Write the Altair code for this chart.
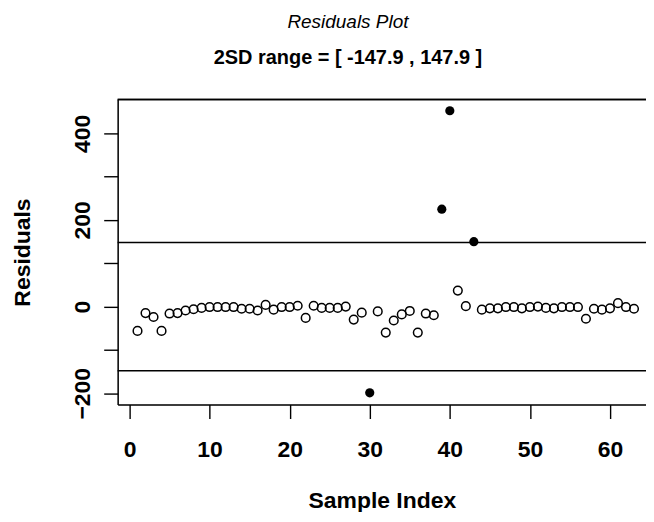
import altair as alt
import pandas as pd

# Sample index 1..63 and residuals
sample_index = list(range(1, 64))
residuals = [-56, -15, -24, -56, -16, -15, -9, -6, -3, -1,
             -1, -1, -1, -5, -5, -9, 4, -7, -1, -1,
             2, -26, 2, -3, -3, -3, 0, -30, -14, -199,
             -11, -60, -32, -18, -10, -60, -16, -20, 225, 452,
             37, 1, 150, -7, -4, -4, -1, -1, -4, -1,
             0, -3, -4, -1, -1, -1, -28, -5, -7, -4,
             8, -1, -5]
sd2 = 147.9
limits = [-sd2, sd2]
x_ticks = [0, 10, 20, 30, 40, 50, 60]
y_ticks = [-200, -100, 0, 100, 200, 300, 400]

df = pd.DataFrame({"idx": sample_index, "res": residuals})
df["out"] = df["res"].abs() > sd2
lim_df = pd.DataFrame({"lim": limits})

FONT = "Liberation Sans, Arial, sans-serif"

xscale = alt.Scale(domain=[-1.48, 64.5], nice=False, zero=False)
yscale = alt.Scale(domain=[-226, 478], nice=False, zero=False)

xaxis = alt.Axis(values=x_ticks, title="Sample Index", grid=False,
                 tickSize=14, tickWidth=1.4, tickColor="black",
                 domainColor="black", domainWidth=1.5,
                 labelFont=FONT, labelFontSize=23, labelFontWeight="bold",
                 labelColor="black", labelPadding=20,
                 titleFont=FONT, titleFontSize=23, titleFontWeight="bold",
                 titleColor="black", titlePadding=28)
yaxis = alt.Axis(values=y_ticks, title="Residuals", grid=False,
                 labelExpr="datum.value % 200 == 0 ? datum.label : ''",
                 labelAngle=-90, labelAlign="center", labelBaseline="bottom",
                 tickSize=14, tickWidth=1.4, tickColor="black",
                 domainColor="black", domainWidth=1.5,
                 labelFont=FONT, labelFontSize=23, labelFontWeight="bold",
                 labelColor="black", labelPadding=9,
                 titleFont=FONT, titleFontSize=23, titleFontWeight="bold",
                 titleColor="black", titlePadding=37)

base = alt.Chart(df)
open_pts = base.transform_filter("!datum.out").mark_point(
    shape="circle", filled=False, color="black", strokeWidth=1.5, size=75, opacity=1
).encode(x=alt.X("idx:Q", scale=xscale, axis=xaxis),
         y=alt.Y("res:Q", scale=yscale, axis=yaxis))
filled_pts = base.transform_filter("datum.out").mark_circle(
    color="black", size=85, opacity=1
).encode(x=alt.X("idx:Q", scale=xscale), y=alt.Y("res:Q", scale=yscale))

rules = alt.Chart(lim_df).mark_rule(color="black", strokeWidth=1.5).encode(
    y=alt.Y("lim:Q", scale=yscale))
top_edge = alt.Chart(lim_df).mark_rule(color="black", strokeWidth=1.5).encode(
    y=alt.value(0))

chart = alt.layer(rules, top_edge, open_pts, filled_pts).properties(
    width=530, height=306,
    title=alt.TitleParams(
        text="Residuals Plot",
        subtitle="2SD range = [ -147.9 , 147.9 ]",
        font=FONT, fontSize=19, fontStyle="italic", fontWeight="normal",
        color="black",
        subtitleFont=FONT, subtitleFontSize=20, subtitleFontWeight="bold",
        subtitleColor="black", subtitlePadding=16,
        anchor="middle", dx=-34, offset=31),
    autosize=alt.AutoSizeParams(type="none"),
    padding={"left": 110, "top": 91, "right": 0, "bottom": 107},
).configure_view(stroke=None).configure(background="white")

chart.save("out.html", embed_options={"renderer": "svg", "actions": False})
